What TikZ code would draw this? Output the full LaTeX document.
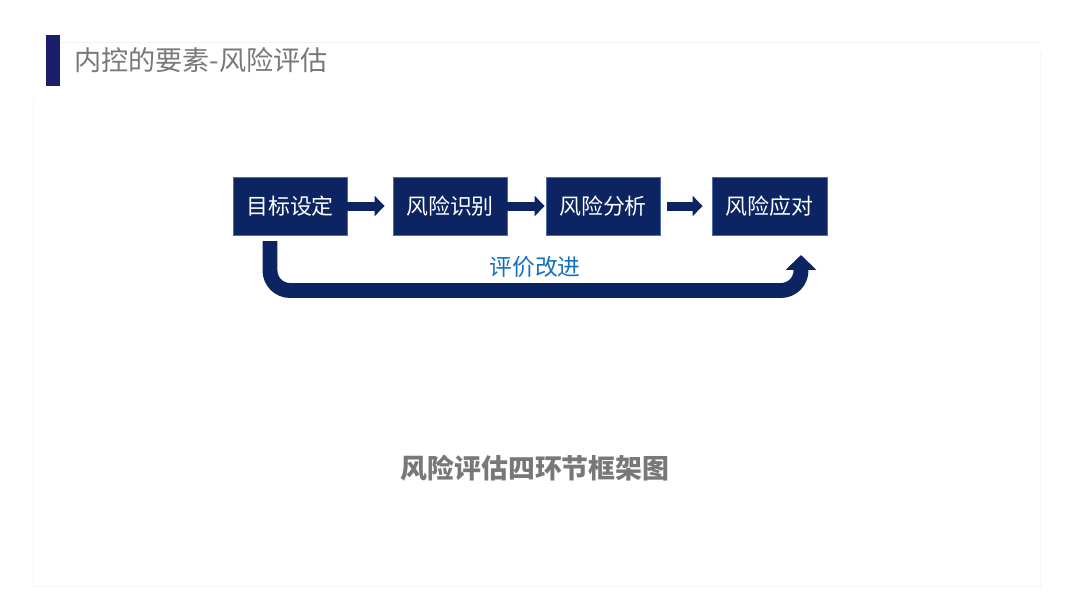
\documentclass[tikz,border=0pt]{standalone}
\usepackage{fontspec}
\setmainfont{Noto Sans CJK SC}
\newfontfamily\cjk{Noto Sans CJK SC}
\usetikzlibrary{arrows.meta}

\definecolor{navybar}{RGB}{27,31,107}
\definecolor{navybox}{RGB}{12,36,97}
\definecolor{boxedge}{RGB}{74,111,181}
\definecolor{loopblue}{RGB}{20,112,190}
\definecolor{titlegray}{RGB}{120,120,120}

\tikzset{
  stepbox/.style={draw=boxedge, line width=0.6pt, fill=navybox, text=white,
    minimum width=2.85cm, minimum height=1.45cm, inner sep=0pt,
    font=\cjk\fontsize{15.6}{18}\selectfont},
  flowarrow/.style={draw=navybox, line width=6.4pt,
    -{Triangle[width=14pt,length=7pt]}},
  loopback/.style={draw=navybox, line width=10.6pt, rounded corners=0.5cm,
    -{Triangle[width=21.3pt,length=10.6pt]}},
}

\begin{document}
\begin{tikzpicture}[x=0.025cm, y=-0.025cm]
\useasboundingbox (0,0) rectangle (1080,608);
% faint slide frame
\draw[black!5, line width=0.4pt] (60,42) -- (1040,42);
\draw[black!4, line width=0.4pt] (33,100) -- (33,586) -- (1040,586) -- (1040,52);

% heading
\fill[navybar] (46,35) rectangle (60,86);
\node[anchor=west, inner sep=0pt, text=titlegray, font=\cjk\fontsize{19.3}{23}\selectfont] (title) at (74,60) {内控的要素-风险评估};

% the four steps
\node[stepbox] (goal) at (290,206) {目标设定};
\node[stepbox] (ident) at (450,206) {风险识别};
\node[stepbox] (anal) at (603,206) {风险分析};
\node[stepbox, minimum width=2.875cm] (resp) at (769.5,206) {风险应对};

\draw[flowarrow, shorten >=5.7pt] (goal.east) -- (ident.west);
\draw[flowarrow, shorten >=0.7pt] (ident.east) -- (anal.west);
\draw[flowarrow, shorten <=5pt, shorten >=6.4pt] (anal.east) -- (resp.west);

% feedback loop
\coordinate (ustart) at (270,241);
\coordinate (uturn) at (801,290.5);
\coordinate (uend) at (801,255);
\draw[loopback] (ustart) |- (uturn) -- (uend);
\node[text=loopblue, font=\cjk\fontsize{16.2}{19}\selectfont] (improve) at (535,267) {评价改进};

% caption
\node[text=titlegray, font=\cjk\bfseries\fontsize{19.1}{22}\selectfont] (caption) at (535,468) {风险评估四环节框架图};
\end{tikzpicture}
\end{document}
